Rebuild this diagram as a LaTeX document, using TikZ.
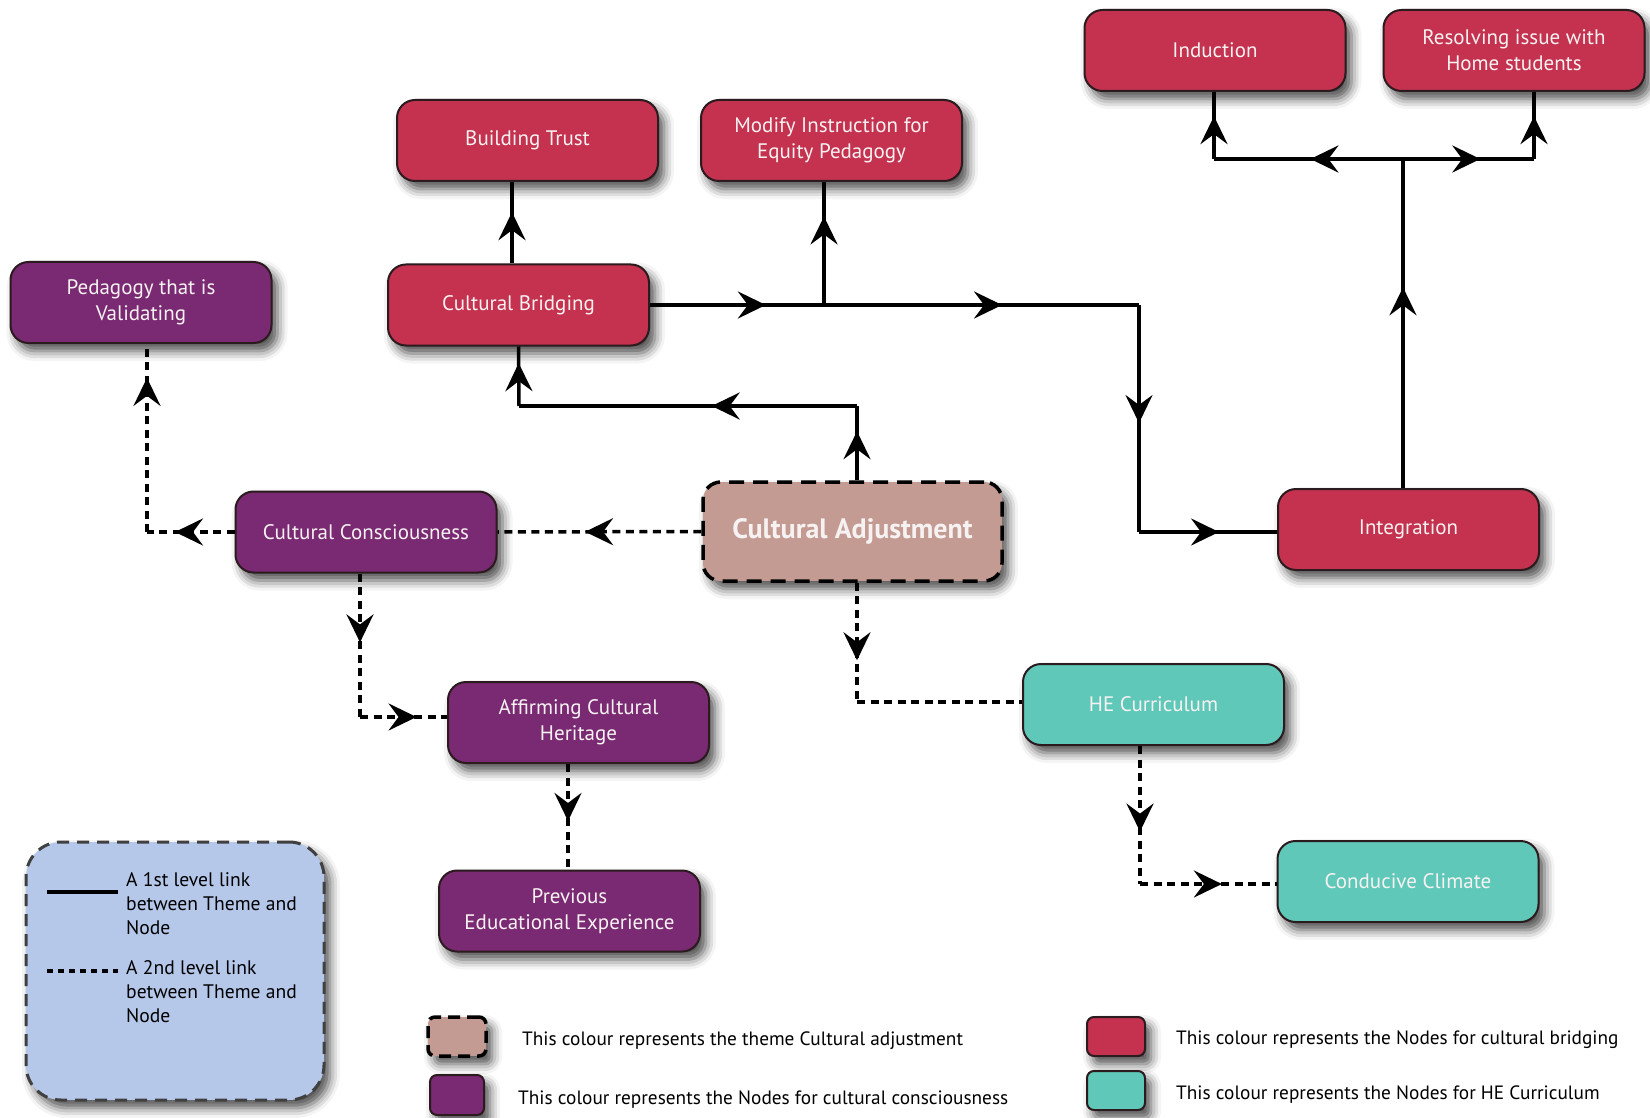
\documentclass[tikz,border=0pt]{standalone}
\usepackage{fontspec}
\setmainfont{PT Sans}
\usetikzlibrary{arrows.meta,decorations.markings,shadows.blur,calc}
\definecolor{cbred}{HTML}{C4324F}
\definecolor{ccpurple}{HTML}{7A2A72}
\definecolor{heteal}{HTML}{5FC8B8}
\definecolor{cabrown}{HTML}{C49B93}
\definecolor{legblue}{HTML}{B5C8EA}
\definecolor{edgedark}{HTML}{2B1A1E}
\definecolor{txtwhite}{HTML}{F7F2F2}
\tikzset{
  >={Stealth[length=28pt,width=27pt,inset=10pt]},
  shad/.style={blur shadow={shadow xshift=6pt, shadow yshift=-8pt, shadow blur radius=10pt, shadow opacity=70}},
  box/.style={rounded corners=18pt, draw=edgedark, line width=2pt, minimum width=261pt,
    minimum height=81pt, inner sep=0pt, align=center, text=txtwhite,
    font=\fontsize{21}{26}\selectfont, shad},
  cbnode/.style={box, fill=cbred},
  ccnode/.style={box, fill=ccpurple},
  henode/.style={box, fill=heteal},
  link/.style={draw=black, line width=3.5pt},
  dlink/.style={link, dash pattern=on 8pt off 5.5pt},
  mk/.style={postaction={decorate}, decoration={markings, mark=at position #1 with {\arrow{>}}}},
  mkk/.style 2 args={postaction={decorate}, decoration={markings,
    mark=at position #1 with {\arrow{>}}, mark=at position #2 with {\arrow{>}}}},
  legtext/.style={inner sep=0pt, text=black, font=\fontsize{19.3}{22}\selectfont},
  boxtext/.style={inner sep=0pt, text=black, align=left, font=\fontsize{19.6}{24}\selectfont},
  swatch/.style={rounded corners=7pt, draw=edgedark, line width=2pt, minimum width=58pt,
    minimum height=39pt, inner sep=0pt, shad},
}
\begin{document}
\begin{tikzpicture}[x=1pt, y=-1pt]
\useasboundingbox (0,0) rectangle (1650,1118);

% nodes
\node[cbnode] (IND) at (1215,50.5) {Induction};
\node[cbnode] (RES) at (1514,50.5) {Resolving issue with\\Home students};
\node[cbnode] (BT) at (527.5,140.5) {Building Trust};
\node[cbnode] (MOD) at (831.5,140.5) {Modify Instruction for\\Equity Pedagogy\hspace*{0pt}};
\node[ccnode] (PED) at (141,302.5) {Pedagogy that is\\Validating};
\node[cbnode] (CB) at (518.5,305) {Cultural Bridging};
\node[ccnode] (CC) at (366,532) {Cultural Consciousness};
\node[box, fill=cabrown, draw=black, line width=3.5pt, dash pattern=on 15pt off 9pt,
  minimum width=299pt, minimum height=99pt,
  font=\bfseries\fontsize{28}{32}\selectfont] (CA) at (852.5,531.5) {Cultural Adjustment};
\node[cbnode] (INT) at (1408.5,529.5) {Integration};
\node[ccnode] (AFF) at (578.5,722.5) {Affirming Cultural\\Heritage};
\node[henode] (HE) at (1153.5,704.5) {HE Curriculum};
\node[henode] (CCL) at (1408,881.5) {Conducive Climate};
\node[ccnode] (PREV) at (569.5,911) {Previous\\Educational Experience};

% bend coordinates
\coordinate (j1) at (1139,305);
\coordinate (j2) at (1139,532);
\coordinate (j3) at (1403,159);
\coordinate (j4) at (1214,159);
\coordinate (j5) at (1534,159);
\coordinate (j6) at (857,406);
\coordinate (j7) at (519,406);
\coordinate (j8) at (147,532);
\coordinate (j9) at (360,717);
\coordinate (j10) at (857,702);
\coordinate (j11) at (1140,884);
\coordinate (xbt) at (512,0);
\coordinate (xmod) at (824,0);
\coordinate (xaff) at (568,0);

% first level links
\draw[link, mk=0.63] (CB.north -| xbt) -- (BT.south -| xbt);
\draw[link, mkk={0.237}{0.72}] (CB.east) -- (j1);
\draw[link, mk=0.72] (CB.east -| xmod) -- (MOD.south -| xmod);
\draw[link, mk=0.52] (j1) -- (j2);
\draw[link, mk=0.58] (j2) -- (INT.west |- j2);
\draw[link, mk=0.61] (INT.north -| j3) -- (j3);
\draw[link, mk=0.49] (j3) -- (j4);
\draw[link, mk=0.64] (j4) -- (IND.south -| j4);
\draw[link, mk=0.59] (j3) -- (j5);
\draw[link, mk=0.64] (j5) -- (RES.south -| j5);
\draw[link, mk=0.66] (CA.north -| j6) -- (j6);
\draw[link, mk=0.43] (j6) -- (j7);
\draw[link, mk=0.72] (j7) -- (CB.south);

% second level links
\draw[dlink, mk=0.57] (CA.west) -- (CC.east);
\draw[dlink, mk=0.68] (CC.west) -- (j8);
\draw[dlink, mk=0.82] (j8) -- (PED.south -| j8);
\draw[dlink, mk=0.48] (CC.south -| j9) -- (j9);
\draw[dlink, mk=0.65] (j9) -- (AFF.west |- j9);
\draw[dlink, mk=0.54] (AFF.south -| xaff) -- (PREV.north -| xaff);
\draw[dlink, mk=0.65] (CA.south -| j10) -- (j10);
\draw[dlink] (j10) -- (HE.west |- j10);
\draw[dlink, mk=0.62] (HE.south -| j11) -- (j11);
\draw[dlink, mk=0.6] (j11) -- (CCL.west |- j11);

% legend box
\node[draw=black!75, fill=legblue, line width=3pt, dash pattern=on 12pt off 8pt,
  rounded corners=35pt, minimum width=298pt, minimum height=258pt, shad] (LEG) at (175,971) {};
\node[boxtext, anchor=north west] (L1) at (126,872) {A 1st level link\\between Theme and\\Node};
\node[boxtext, anchor=north west] (L2) at (126,960) {A 2nd level link\\between Theme and\\Node};
\coordinate (s1a) at (47,892);
\coordinate (s1b) at (118,892);
\coordinate (s2a) at (47,971);
\coordinate (s2b) at (118,971);
\draw[line width=3.5pt] (s1a) -- (s1b);
\draw[line width=3.5pt, dash pattern=on 6pt off 5pt] (s2a) -- (s2b);

% colour legend
\node[swatch, fill=cabrown, draw=black, line width=3.5pt, dash pattern=on 12pt off 7pt] (SW1) at (457,1036.5) {};
\node[swatch, fill=ccpurple, minimum width=54pt, minimum height=40pt] (SW2) at (457,1095) {};
\node[swatch, fill=cbred] (SW3) at (1116,1036.5) {};
\node[swatch, fill=heteal] (SW4) at (1116,1090.5) {};
\node[legtext, anchor=west] (T1) at (522,1041) {This colour represents the theme Cultural adjustment};
\node[legtext, anchor=west] (T2) at (518,1100) {This colour represents the Nodes for cultural consciousness};
\node[legtext, anchor=west] (T3) at (1176,1040) {This colour represents the Nodes for cultural bridging};
\node[legtext, anchor=west] (T4) at (1176,1095) {This colour represents the Nodes for HE Curriculum};
\end{tikzpicture}
\end{document}
